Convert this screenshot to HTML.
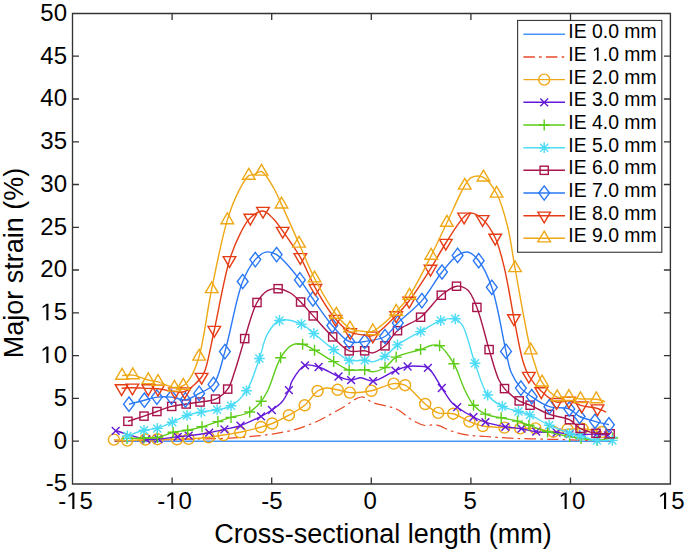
<!DOCTYPE html>
<html><head><meta charset="utf-8"><style>
html,body{margin:0;padding:0;background:#fff;}
svg{display:block;font-family:"Liberation Sans",sans-serif;}
</style></head><body>
<svg width="685" height="552" viewBox="0 0 685 552">
<rect width="685" height="552" fill="#fff"/>
<rect x="72.5" y="13.5" width="597.9" height="470.5" fill="#fff" stroke="none"/>
<path d="M114.5 441.3 L610.5 441.3" fill="none" stroke="#4595f8" stroke-width="1.4" stroke-linejoin="round"/>

<path d="M114.5 441.1 C129.7 440.7 145.3 440.4 160 440 C173.8 439.7 187.6 439.3 200 439 C210.7 438.7 220.8 438.7 230 438.2 C237.9 437.8 244.6 437.1 251.9 436.4 C259.2 435.7 266.5 435 273.8 433.8 C281.1 432.6 289 431.3 295.7 429.4 C301.5 427.8 307.4 425.4 311.8 423.6 C315 422.3 316.7 421.6 320 420 C325.6 417.2 334.8 411.9 341.9 408 C348.6 404.3 356 397.1 361.6 397 C365.8 396.9 368.4 400.9 372.6 402.5 C377.7 404.4 385.3 405.4 390.1 406.9 C393.5 408 395.7 408.5 398.8 410.2 C402.9 412.4 407.4 417.4 412 420 C416.2 422.4 420.9 424.8 425.1 425.5 C428.8 426.1 432.1 424.3 436 424.9 C440.8 425.7 446.2 429.3 451.4 431 C456.5 432.6 461.3 434 466.7 434.9 C472.7 435.9 479 436 485.7 436.5 C493.3 437.1 501.5 437.8 510.1 438.2 C519.6 438.7 530 438.7 540 439 C550 439.3 559.3 439.5 570 439.8 C582.5 440.2 597 440.6 610.5 441" fill="none" stroke="#e84a28" stroke-width="1.25" stroke-linejoin="round" stroke-dasharray="11.5 4.2 2.6 4.2"/>

<path d="M113.9 439.6 C118.4 439.9 122.5 440.6 127.3 440.6 C132.9 440.6 140 439.7 145.4 439.5 C149.8 439.3 152.9 439.2 157.4 439.2 C163.2 439.1 171.4 439.4 177.1 439.3 C181.4 439.2 184.2 439.1 188.5 438.9 C194.3 438.6 202.4 438 208.6 437.3 C214 436.7 218.4 435.8 223.5 435 C228.9 434.1 234.4 433.5 240.2 432.3 C246.8 430.9 255.1 428.7 260.9 427 C265.3 425.8 268.1 425.1 272.2 423.5 C277.3 421.5 283.5 418.2 288.9 415.2 C294.3 412.2 299.9 409.3 304.7 405.3 C309.5 401.2 313.4 393.8 317.6 391 C320.5 389.1 323.1 388.3 326.2 388 C329.7 387.7 333.7 389.1 337.6 389.8 C341.6 390.6 345.1 392.3 349.8 392.6 C355.9 393 364.2 392.2 371.4 390.8 C378.9 389.3 387.4 384.1 393.7 383.6 C398.1 383.2 401.1 383.3 405.1 385.2 C411.3 388.2 419.1 399.1 425.2 404 C429.9 407.7 433.5 411.3 438.2 412.9 C442.8 414.5 448.2 412.4 453.2 413.7 C458.6 415.1 464.2 419.5 469.4 421.6 C474 423.5 477.7 425 482.8 426 C489.1 427.2 497.8 427.2 504.4 427.6 C510.1 428 515 428.3 520.2 428.4 C525.3 428.5 530.1 427.9 535.4 428.4 C541.1 428.9 547.7 431.7 553.3 431.7 C558.3 431.7 562.7 429.8 567.5 429.3 C572.4 428.8 577.2 428.5 582.5 428.8 C588.6 429.2 595.5 430.9 602 432" fill="none" stroke="#efa815" stroke-width="1.4" stroke-linejoin="round"/>
<g fill="none" stroke="#efa815" stroke-width="1.4"><circle cx="113.9" cy="439.6" r="5.5"/><circle cx="127.3" cy="440.6" r="5.5"/><circle cx="145.4" cy="439.5" r="5.5"/><circle cx="157.4" cy="439.2" r="5.5"/><circle cx="177.1" cy="439.3" r="5.5"/><circle cx="188.5" cy="438.9" r="5.5"/><circle cx="208.6" cy="437.3" r="5.5"/><circle cx="223.5" cy="435" r="5.5"/><circle cx="240.2" cy="432.3" r="5.5"/><circle cx="260.9" cy="427" r="5.5"/><circle cx="272.2" cy="423.5" r="5.5"/><circle cx="288.9" cy="415.2" r="5.5"/><circle cx="304.7" cy="405.3" r="5.5"/><circle cx="317.6" cy="391" r="5.5"/><circle cx="337.6" cy="389.8" r="5.5"/><circle cx="349.8" cy="392.6" r="5.5"/><circle cx="371.4" cy="390.8" r="5.5"/><circle cx="393.7" cy="383.6" r="5.5"/><circle cx="405.1" cy="385.2" r="5.5"/><circle cx="425.2" cy="404" r="5.5"/><circle cx="438.2" cy="412.9" r="5.5"/><circle cx="453.2" cy="413.7" r="5.5"/><circle cx="469.4" cy="421.6" r="5.5"/><circle cx="482.8" cy="426" r="5.5"/><circle cx="504.4" cy="427.6" r="5.5"/><circle cx="520.2" cy="428.4" r="5.5"/><circle cx="535.4" cy="428.4" r="5.5"/><circle cx="553.3" cy="431.7" r="5.5"/><circle cx="567.5" cy="429.3" r="5.5"/><circle cx="582.5" cy="428.8" r="5.5"/><circle cx="602" cy="432" r="5.5"/></g>

<path d="M115.7 430.8 C125.9 433.6 138.3 438.3 146.2 439.3 C151.1 439.9 153.9 439.3 158.4 439 C164.1 438.6 172.2 437.4 177.7 436.8 C181.9 436.3 184.5 436.1 188.7 435.6 C194.5 434.9 202.9 433.8 209.2 432.7 C214.7 431.7 219.3 430.6 224.4 429.4 C229.7 428.2 234.9 427.5 240.5 425.6 C247 423.4 255.3 419.2 261 416.3 C265.3 414.1 268.5 412.3 271.9 410 C275.3 407.7 278.8 405.5 281.6 402.3 C284.6 398.9 287.1 394 288.9 390.2 C290.4 387.1 290.2 384.4 292 381.2 C294.7 376.4 300 367.4 305 365.4 C309.1 363.8 313.8 365.6 318.6 367 C324.7 368.8 332.5 374.2 338.5 376.5 C343.1 378.2 347.1 380 351.1 380.1 C354.6 380.2 357.5 377.7 361 377.8 C364.8 377.9 368.5 381.5 373.1 381.1 C379.5 380.5 389 373.2 395.4 370.6 C400 368.7 403.7 367.2 407.6 366.5 C411 365.9 414 366 417.3 366.2 C420.8 366.4 424.6 365.7 427.9 367.8 C433 371 437.6 381.8 441.8 388 C445.3 393.2 448.5 398.9 451.5 402.3 C453.5 404.5 454.7 405.4 457.2 407.2 C461.2 410.1 468.4 414.4 473.5 417 C477.7 419.2 480.8 420.7 485.4 422.2 C491.1 424.1 499 425.7 505.3 426.8 C510.9 427.8 516.2 427.9 521.5 428.7 C526.5 429.5 530.9 431.1 536.2 431.7 C542.4 432.5 550.6 432 556.6 432.5 C561.4 432.9 565.2 433.9 569.6 434.2 C574 434.5 578.5 434.5 583 434.5 C587.5 434.5 592.2 434 596.5 434.2 C600.5 434.3 604.1 434.9 607.9 435.3" fill="none" stroke="#6418d8" stroke-width="1.4" stroke-linejoin="round"/>
<g fill="none" stroke="#6418d8" stroke-width="1.4"><path d="M111.8 426.9L119.6 434.7M111.8 434.7L119.6 426.9"/><path d="M142.3 435.4L150.1 443.2M142.3 443.2L150.1 435.4"/><path d="M154.5 435.1L162.3 442.9M154.5 442.9L162.3 435.1"/><path d="M173.8 432.9L181.6 440.7M173.8 440.7L181.6 432.9"/><path d="M184.8 431.7L192.6 439.5M184.8 439.5L192.6 431.7"/><path d="M205.3 428.8L213.1 436.6M205.3 436.6L213.1 428.8"/><path d="M220.5 425.5L228.3 433.3M220.5 433.3L228.3 425.5"/><path d="M236.6 421.7L244.4 429.5M236.6 429.5L244.4 421.7"/><path d="M257.1 412.4L264.9 420.2M257.1 420.2L264.9 412.4"/><path d="M268 406.1L275.8 413.9M268 413.9L275.8 406.1"/><path d="M285 386.3L292.8 394.1M285 394.1L292.8 386.3"/><path d="M301.1 361.5L308.9 369.3M301.1 369.3L308.9 361.5"/><path d="M314.7 363.1L322.5 370.9M314.7 370.9L322.5 363.1"/><path d="M334.6 372.6L342.4 380.4M334.6 380.4L342.4 372.6"/><path d="M347.2 376.2L355 384M347.2 384L355 376.2"/><path d="M369.2 377.2L377 385M369.2 385L377 377.2"/><path d="M391.5 366.7L399.3 374.5M391.5 374.5L399.3 366.7"/><path d="M403.7 362.6L411.5 370.4M403.7 370.4L411.5 362.6"/><path d="M424 363.9L431.8 371.7M424 371.7L431.8 363.9"/><path d="M437.9 384.1L445.7 391.9M437.9 391.9L445.7 384.1"/><path d="M453.3 403.3L461.1 411.1M453.3 411.1L461.1 403.3"/><path d="M469.6 413.1L477.4 420.9M469.6 420.9L477.4 413.1"/><path d="M481.5 418.3L489.3 426.1M481.5 426.1L489.3 418.3"/><path d="M501.4 422.9L509.2 430.7M501.4 430.7L509.2 422.9"/><path d="M517.6 424.8L525.4 432.6M517.6 432.6L525.4 424.8"/><path d="M532.3 427.8L540.1 435.6M532.3 435.6L540.1 427.8"/><path d="M552.7 428.6L560.5 436.4M552.7 436.4L560.5 428.6"/><path d="M565.7 430.3L573.5 438.1M565.7 438.1L573.5 430.3"/><path d="M579.1 430.6L586.9 438.4M579.1 438.4L586.9 430.6"/><path d="M592.6 430.3L600.4 438.1M592.6 438.1L600.4 430.3"/><path d="M604 431.4L611.8 439.2M604 439.2L611.8 431.4"/></g>

<path d="M127 438.4 C132.7 438.3 138.7 438.2 144 438 C148.7 437.9 152.8 438.3 157.4 437.5 C162.5 436.6 167.9 433.5 173.1 432.3 C178 431.2 182.9 431.2 187.7 430.3 C192.5 429.4 197.1 428.2 202 426.8 C207.2 425.3 212.9 423.2 217.9 421.6 C222.5 420.1 226.2 418.9 231 417.4 C236.7 415.7 244.5 415 249.7 412 C254.4 409.3 258.1 405.1 261.2 401.2 C264.1 397.7 265.6 394.8 268 390 C271.9 382.2 275.7 365.8 280.6 357.8 C284 352.2 287.8 347.2 292 345.1 C295.3 343.5 299.1 343.6 302.6 344.3 C306.6 345.1 310.1 347.8 314.5 350.2 C320.2 353.3 327.6 358.1 333.7 361.6 C339.1 364.7 343.9 368.7 349.2 370 C354.2 371.2 360.4 369.2 364.7 369.7 C367.9 370.1 369.8 371.8 372.8 371.7 C376.5 371.5 381.2 369.8 385 367.5 C389.1 365 391.4 359.9 396.2 357.1 C402.5 353.5 414 351.8 420.6 349.5 C425.1 347.9 428.5 345.7 432 345.2 C434.7 344.8 437 344.4 439.6 345.8 C444.1 348.2 449.8 356.9 453.8 363.7 C458.2 371.2 460.9 381.9 464.5 389.3 C467.5 395.4 469.8 401.1 473.5 405.3 C476.9 409.1 480.9 412 485.4 414.1 C490.1 416.3 495.9 416.6 501.2 417.8 C506.6 419 512.6 419.7 517.5 421.1 C521.7 422.3 524.6 423.7 528.9 425.2 C534.4 427.1 541.1 429.8 547.6 431.7 C554.6 433.7 563.4 435.4 569.6 436.6 C574 437.5 576.8 438 581 438.6 C585.9 439.3 592 440.3 597.3 440.2 C602.5 440.1 607.4 438.7 612.5 438" fill="none" stroke="#5ccc18" stroke-width="1.4" stroke-linejoin="round"/>
<g fill="none" stroke="#5ccc18" stroke-width="1.4"><path d="M121.5 438.4H132.5M127 432.9V443.9"/><path d="M138.5 438H149.5M144 432.5V443.5"/><path d="M151.9 437.5H162.9M157.4 432V443"/><path d="M167.6 432.3H178.6M173.1 426.8V437.8"/><path d="M182.2 430.3H193.2M187.7 424.8V435.8"/><path d="M196.5 426.8H207.5M202 421.3V432.3"/><path d="M212.4 421.6H223.4M217.9 416.1V427.1"/><path d="M225.5 417.4H236.5M231 411.9V422.9"/><path d="M244.2 412H255.2M249.7 406.5V417.5"/><path d="M255.7 401.2H266.7M261.2 395.7V406.7"/><path d="M275.1 357.8H286.1M280.6 352.3V363.3"/><path d="M297.1 344.3H308.1M302.6 338.8V349.8"/><path d="M309 350.2H320M314.5 344.7V355.7"/><path d="M328.2 361.6H339.2M333.7 356.1V367.1"/><path d="M343.7 370H354.7M349.2 364.5V375.5"/><path d="M359.2 369.7H370.2M364.7 364.2V375.2"/><path d="M379.5 367.5H390.5M385 362V373"/><path d="M390.7 357.1H401.7M396.2 351.6V362.6"/><path d="M415.1 349.5H426.1M420.6 344V355"/><path d="M434.1 345.8H445.1M439.6 340.3V351.3"/><path d="M448.3 363.7H459.3M453.8 358.2V369.2"/><path d="M468 405.3H479M473.5 399.8V410.8"/><path d="M479.9 414.1H490.9M485.4 408.6V419.6"/><path d="M495.7 417.8H506.7M501.2 412.3V423.3"/><path d="M512 421.1H523M517.5 415.6V426.6"/><path d="M523.4 425.2H534.4M528.9 419.7V430.7"/><path d="M542.1 431.7H553.1M547.6 426.2V437.2"/><path d="M564.1 436.6H575.1M569.6 431.1V442.1"/><path d="M575.5 438.6H586.5M581 433.1V444.1"/><path d="M591.8 440.2H602.8M597.3 434.7V445.7"/><path d="M607 438H618M612.5 432.5V443.5"/></g>

<path d="M127.3 436 C132.9 434.1 138.7 431.6 144 430.3 C148.6 429.2 152.8 429.6 157.3 428.4 C162.2 427.1 167.3 424.4 172.3 422.2 C177.2 420 182.1 417.1 187 415.4 C191.7 413.8 196.3 413 201.2 412.1 C206.3 411.1 212 410.8 217.1 409.7 C221.9 408.7 226.5 408.4 231 405.8 C236.4 402.7 242.1 397.3 246.5 390.8 C252.1 382.5 255.7 368.6 259.4 358.5 C262.6 349.7 263.7 340.4 267.6 333.7 C270.8 328.2 274.3 322.3 279.5 320.5 C285.3 318.5 295.4 321.5 301.4 324.1 C306.5 326.3 309.3 329.9 313.9 333.5 C319.8 338.1 327.4 345 333.7 349.7 C339.1 353.7 343.8 358.6 349.2 360.3 C354.1 361.8 360.4 359.9 364.7 360.3 C367.9 360.6 369.9 362.3 372.8 361.9 C376.5 361.4 381.1 358.8 385 356.2 C389.4 353.3 392.5 348.6 397.5 344.9 C403.8 340.3 413.1 335.8 420.6 331.6 C427.5 327.7 434.4 322.6 440.7 320.6 C445.8 319 451.4 317.6 455.2 318.8 C458.4 319.8 460.3 322 462.6 325.6 C467.2 332.8 470.6 351.3 475 363.3 C479 374.4 482.1 387.5 487.7 395 C491.8 400.5 497 403.6 502.3 406.4 C507.3 409 513.6 410 518.5 411.5 C522.6 412.8 525.6 413.2 529.8 414.9 C535.5 417.2 542.6 422.1 549.2 425.2 C555.8 428.3 563.9 431.4 569.6 433.3 C573.7 434.6 576.3 435 580.2 436 C585.2 437.3 591.5 439.7 597 440.4 C602.2 441.1 607.2 440.4 612.3 440.4" fill="none" stroke="#4ddcf7" stroke-width="1.4" stroke-linejoin="round"/>
<g fill="none" stroke="#4ddcf7" stroke-width="1.4"><path d="M121.9 436H132.7M127.3 430.6V441.4M123.3 432L131.3 440M123.3 440L131.3 432"/><path d="M138.6 430.3H149.4M144 424.9V435.7M140 426.3L148 434.3M140 434.3L148 426.3"/><path d="M151.9 428.4H162.7M157.3 423V433.8M153.3 424.4L161.3 432.4M153.3 432.4L161.3 424.4"/><path d="M166.9 422.2H177.7M172.3 416.8V427.6M168.3 418.2L176.3 426.2M168.3 426.2L176.3 418.2"/><path d="M181.6 415.4H192.4M187 410V420.8M183 411.4L191 419.4M183 419.4L191 411.4"/><path d="M195.8 412.1H206.6M201.2 406.7V417.5M197.2 408.1L205.2 416.1M197.2 416.1L205.2 408.1"/><path d="M211.7 409.7H222.5M217.1 404.3V415.1M213.1 405.7L221.1 413.7M213.1 413.7L221.1 405.7"/><path d="M225.6 405.8H236.4M231 400.4V411.2M227 401.8L235 409.8M227 409.8L235 401.8"/><path d="M241.1 390.8H251.9M246.5 385.4V396.2M242.5 386.8L250.5 394.8M242.5 394.8L250.5 386.8"/><path d="M254 358.5H264.8M259.4 353.1V363.9M255.4 354.5L263.4 362.5M255.4 362.5L263.4 354.5"/><path d="M274.1 320.5H284.9M279.5 315.1V325.9M275.5 316.5L283.5 324.5M275.5 324.5L283.5 316.5"/><path d="M296 324.1H306.8M301.4 318.7V329.5M297.4 320.1L305.4 328.1M297.4 328.1L305.4 320.1"/><path d="M308.5 333.5H319.3M313.9 328.1V338.9M309.9 329.5L317.9 337.5M309.9 337.5L317.9 329.5"/><path d="M328.3 349.7H339.1M333.7 344.3V355.1M329.7 345.7L337.7 353.7M329.7 353.7L337.7 345.7"/><path d="M343.8 360.3H354.6M349.2 354.9V365.7M345.2 356.3L353.2 364.3M345.2 364.3L353.2 356.3"/><path d="M359.3 360.3H370.1M364.7 354.9V365.7M360.7 356.3L368.7 364.3M360.7 364.3L368.7 356.3"/><path d="M379.6 356.2H390.4M385 350.8V361.6M381 352.2L389 360.2M381 360.2L389 352.2"/><path d="M392.1 344.9H402.9M397.5 339.5V350.3M393.5 340.9L401.5 348.9M393.5 348.9L401.5 340.9"/><path d="M415.2 331.6H426M420.6 326.2V337M416.6 327.6L424.6 335.6M416.6 335.6L424.6 327.6"/><path d="M435.3 320.6H446.1M440.7 315.2V326M436.7 316.6L444.7 324.6M436.7 324.6L444.7 316.6"/><path d="M449.8 318.8H460.6M455.2 313.4V324.2M451.2 314.8L459.2 322.8M451.2 322.8L459.2 314.8"/><path d="M469.6 363.3H480.4M475 357.9V368.7M471 359.3L479 367.3M471 367.3L479 359.3"/><path d="M482.3 395H493.1M487.7 389.6V400.4M483.7 391L491.7 399M483.7 399L491.7 391"/><path d="M496.9 406.4H507.7M502.3 401V411.8M498.3 402.4L506.3 410.4M498.3 410.4L506.3 402.4"/><path d="M513.1 411.5H523.9M518.5 406.1V416.9M514.5 407.5L522.5 415.5M514.5 415.5L522.5 407.5"/><path d="M524.4 414.9H535.2M529.8 409.5V420.3M525.8 410.9L533.8 418.9M525.8 418.9L533.8 410.9"/><path d="M543.8 425.2H554.6M549.2 419.8V430.6M545.2 421.2L553.2 429.2M545.2 429.2L553.2 421.2"/><path d="M564.2 433.3H575M569.6 427.9V438.7M565.6 429.3L573.6 437.3M565.6 437.3L573.6 429.3"/><path d="M574.8 436H585.6M580.2 430.6V441.4M576.2 432L584.2 440M576.2 440L584.2 432"/><path d="M591.6 440.4H602.4M597 435V445.8M593 436.4L601 444.4M593 444.4L601 436.4"/><path d="M606.9 440.4H617.7M612.3 435V445.8M608.3 436.4L616.3 444.4M608.3 444.4L616.3 436.4"/></g>

<path d="M127.9 421.3 C133.3 419.6 138.9 417.8 144 416.1 C148.6 414.6 152.4 413.1 156.9 411.5 C161.7 409.8 166.7 407.7 171.7 406.4 C176.5 405.2 181.4 404.7 186.2 404 C190.9 403.3 195.3 402.8 200 402 C205 401.2 210.9 401.2 215.5 399.1 C220.1 397 224.6 393.4 227.7 389.1 C231.1 384.5 232.2 378.6 234.6 371.8 C237.8 362.6 241.1 349.9 244.7 338.6 C248.5 326.8 252.1 311 257 302.5 C260.2 297 263.7 292.8 267.6 290.6 C270.8 288.8 274.5 288.4 278.1 288.7 C282.1 289 286.7 290.8 290.4 293 C294.2 295.2 297.1 298.6 300.6 302 C304.7 306 308.5 310.8 313.2 315.9 C319 322.2 326.3 330.8 332.7 336.9 C338.3 342.2 343.4 348.7 349.2 350.8 C354.1 352.6 360.4 350.3 364.7 350.8 C367.9 351.2 369.9 353.3 372.8 352.9 C376.6 352.4 381.2 349 385 345.8 C389.5 342 392.2 335.2 397.5 330.7 C403.7 325.5 413.5 322.9 420.6 317.2 C428.2 311.2 434.6 300.6 441.3 295.2 C446.5 291.1 451.7 286.7 456.5 286.2 C460.4 285.8 464.4 287.2 467.5 289.8 C471.6 293.2 473.9 300.1 476.9 307.4 C481.3 318.3 485.2 336.8 489.1 349.6 C492.4 360.4 495.4 372.6 498.7 379.5 C500.6 383.6 501.8 385.5 504.5 388.6 C508.1 392.7 514.4 398.1 519.2 400.9 C522.9 403.1 526 403.4 530.1 405.2 C535.7 407.6 542.9 412 549.5 414.4 C556 416.8 564.1 416.9 569.5 419.7 C573.9 421.9 576 426.2 580.1 428.4 C584.7 430.9 590.8 432.4 596 433.3 C600.8 434.1 605.4 433.6 610.1 433.8" fill="none" stroke="#a8144c" stroke-width="1.4" stroke-linejoin="round"/>
<g fill="none" stroke="#a8144c" stroke-width="1.4"><rect x="123.8" y="417.2" width="8.2" height="8.2"/><rect x="139.9" y="412" width="8.2" height="8.2"/><rect x="152.8" y="407.4" width="8.2" height="8.2"/><rect x="167.6" y="402.3" width="8.2" height="8.2"/><rect x="182.1" y="399.9" width="8.2" height="8.2"/><rect x="195.9" y="397.9" width="8.2" height="8.2"/><rect x="211.4" y="395" width="8.2" height="8.2"/><rect x="223.6" y="385" width="8.2" height="8.2"/><rect x="240.6" y="334.5" width="8.2" height="8.2"/><rect x="252.9" y="298.4" width="8.2" height="8.2"/><rect x="274" y="284.6" width="8.2" height="8.2"/><rect x="296.5" y="297.9" width="8.2" height="8.2"/><rect x="309.1" y="311.8" width="8.2" height="8.2"/><rect x="328.6" y="332.8" width="8.2" height="8.2"/><rect x="345.1" y="346.7" width="8.2" height="8.2"/><rect x="360.6" y="346.7" width="8.2" height="8.2"/><rect x="380.9" y="341.7" width="8.2" height="8.2"/><rect x="393.4" y="326.6" width="8.2" height="8.2"/><rect x="416.5" y="313.1" width="8.2" height="8.2"/><rect x="437.2" y="291.1" width="8.2" height="8.2"/><rect x="452.4" y="282.1" width="8.2" height="8.2"/><rect x="472.8" y="303.3" width="8.2" height="8.2"/><rect x="485" y="345.5" width="8.2" height="8.2"/><rect x="500.4" y="384.5" width="8.2" height="8.2"/><rect x="515.1" y="396.8" width="8.2" height="8.2"/><rect x="526" y="401.1" width="8.2" height="8.2"/><rect x="545.4" y="410.3" width="8.2" height="8.2"/><rect x="565.4" y="415.6" width="8.2" height="8.2"/><rect x="576" y="424.3" width="8.2" height="8.2"/><rect x="591.9" y="429.2" width="8.2" height="8.2"/><rect x="606" y="429.7" width="8.2" height="8.2"/></g>

<path d="M129 404.2 C134.1 402.9 139.5 401.4 144.4 400.2 C148.8 399.1 152.5 397.6 156.9 397.1 C161.5 396.5 166.7 396.6 171.5 397.1 C176.2 397.6 180.9 400.5 185.4 399.9 C190.1 399.3 194.6 395.9 199.2 393.4 C204 390.8 209.6 389.3 213.5 384.4 C219.1 377.4 221 364.7 224.9 351.6 C230.6 332.7 236 297.9 242.7 281.5 C246.6 271.8 250.7 264.7 255.3 259.6 C258.5 256 261.9 252.9 265.6 252.1 C269.1 251.4 272.6 252.3 276.6 254.6 C283.5 258.6 293.5 271.8 299.9 279.9 C305.1 286.5 308.1 292.1 312.9 298.9 C318.7 307.1 325.7 318 332.3 325.5 C337.8 331.8 343.2 339.1 349.2 341.5 C354.1 343.5 359.2 342.2 364.7 341.5 C371.1 340.7 379.4 339.8 385 336.5 C390.3 333.4 392.8 327.9 397.8 322.9 C404.5 316.3 414.6 308.9 421.9 300.6 C429.4 292 435.4 280.1 442 272 C447.3 265.5 452.4 258.6 457.6 255.4 C461.3 253.1 465.2 251.5 468.6 252.2 C472.3 253 475.5 256.6 478.7 260.7 C483.5 266.8 487.9 276.2 491.8 287.3 C497.6 303.8 502.4 336 506 351.4 C508 360.2 508.4 365.7 511 372 C513.5 377.9 517.1 383.8 520.9 388.1 C524.1 391.8 527.5 393.9 531.7 396.7 C536.8 400.1 543.1 404.7 549.4 406.7 C555.6 408.7 564 406.9 569.3 409 C573.6 410.7 575.6 414.5 579.6 416.5 C584.1 418.7 590 419.9 595 421.3 C599.7 422.6 604.3 423.6 608.9 424.8" fill="none" stroke="#2a78f6" stroke-width="1.4" stroke-linejoin="round"/>
<g fill="none" stroke="#2a78f6" stroke-width="1.4"><path d="M129 397L134.4 404.2L129 411.4L123.6 404.2Z"/><path d="M144.4 393L149.8 400.2L144.4 407.4L139 400.2Z"/><path d="M156.9 389.9L162.3 397.1L156.9 404.3L151.5 397.1Z"/><path d="M171.5 389.9L176.9 397.1L171.5 404.3L166.1 397.1Z"/><path d="M185.4 392.7L190.8 399.9L185.4 407.1L180 399.9Z"/><path d="M199.2 386.2L204.6 393.4L199.2 400.6L193.8 393.4Z"/><path d="M213.5 377.2L218.9 384.4L213.5 391.6L208.1 384.4Z"/><path d="M224.9 344.4L230.3 351.6L224.9 358.8L219.5 351.6Z"/><path d="M242.7 274.3L248.1 281.5L242.7 288.7L237.3 281.5Z"/><path d="M255.3 252.4L260.7 259.6L255.3 266.8L249.9 259.6Z"/><path d="M276.6 247.4L282 254.6L276.6 261.8L271.2 254.6Z"/><path d="M299.9 272.7L305.3 279.9L299.9 287.1L294.5 279.9Z"/><path d="M312.9 291.7L318.3 298.9L312.9 306.1L307.5 298.9Z"/><path d="M332.3 318.3L337.7 325.5L332.3 332.7L326.9 325.5Z"/><path d="M349.2 334.3L354.6 341.5L349.2 348.7L343.8 341.5Z"/><path d="M364.7 334.3L370.1 341.5L364.7 348.7L359.3 341.5Z"/><path d="M385 329.3L390.4 336.5L385 343.7L379.6 336.5Z"/><path d="M397.8 315.7L403.2 322.9L397.8 330.1L392.4 322.9Z"/><path d="M421.9 293.4L427.3 300.6L421.9 307.8L416.5 300.6Z"/><path d="M442 264.8L447.4 272L442 279.2L436.6 272Z"/><path d="M457.6 248.2L463 255.4L457.6 262.6L452.2 255.4Z"/><path d="M478.7 253.5L484.1 260.7L478.7 267.9L473.3 260.7Z"/><path d="M491.8 280.1L497.2 287.3L491.8 294.5L486.4 287.3Z"/><path d="M506 344.2L511.4 351.4L506 358.6L500.6 351.4Z"/><path d="M520.9 380.9L526.3 388.1L520.9 395.3L515.5 388.1Z"/><path d="M531.7 389.5L537.1 396.7L531.7 403.9L526.3 396.7Z"/><path d="M549.4 399.5L554.8 406.7L549.4 413.9L544 406.7Z"/><path d="M569.3 401.8L574.7 409L569.3 416.2L563.9 409Z"/><path d="M579.6 409.3L585 416.5L579.6 423.7L574.2 416.5Z"/><path d="M595 414.1L600.4 421.3L595 428.5L589.6 421.3Z"/><path d="M608.9 417.6L614.3 424.8L608.9 432L603.5 424.8Z"/></g>

<path d="M121.6 388.3 C125.2 388.1 128.5 387.7 132.4 387.7 C137.2 387.7 143.7 388.2 148.3 388.4 C151.9 388.6 154.3 388.4 158 388.8 C162.9 389.3 170.1 391.1 175 391.5 C178.7 391.8 181.3 392.8 184.7 391.5 C189.9 389.6 198.2 381.4 201.6 377 C203.7 374.3 204.1 373 205.4 369.3 C208.2 361.4 211 345 214.3 330 C218.7 310.1 224 278 229.5 260.2 C233.1 248.7 236.7 240.2 240.7 232.6 C243.8 226.7 246.3 221.5 250.3 217.8 C253.9 214.5 259.1 210.7 263 211 C266.7 211.3 270.1 215.6 273.3 218.7 C276.8 222.1 279.2 226.1 282.7 231 C287.7 238 294.9 247.9 300.3 257.2 C305.9 266.9 309.7 278 315.4 288.1 C321.3 298.6 328.8 311.2 335.5 319 C340.4 324.7 345 329.6 350.2 332.2 C354.6 334.4 359.8 334.4 363.9 335 C367.2 335.5 369.4 336.8 372.8 335.7 C379.1 333.6 389.7 321.8 396.2 315.4 C401.4 310.3 404.6 306.8 409.2 300.8 C415.7 292.4 424.1 279.1 430.5 268.9 C436.2 259.9 440.3 251.6 445.8 243 C451.5 234.2 459.1 221.3 464.1 216.7 C466.5 214.5 468 213 470.5 212.9 C473.9 212.8 478.9 215.9 482.6 219.2 C487.3 223.4 491.8 230.6 495.2 237.8 C499.2 246.1 501.3 255.7 504.1 266.8 C507.7 281.4 512 308.6 513.9 318.3 C514.6 322.1 514.8 322.7 515.5 326.3 C517.1 333.9 520.3 352.7 523.1 361.8 C524.9 367.7 526.2 371.4 528.9 376 C532 381.2 536.6 386.9 541.3 391.3 C545.9 395.6 551.5 400.8 556.6 402.1 C560.7 403.2 564.8 400.4 568.9 400.9 C573.2 401.4 577.2 404.4 581.7 405.6 C586.6 406.9 593.1 407.2 597.5 408.5 C600.9 409.5 603.3 410.9 606.2 412.1" fill="none" stroke="#e63c14" stroke-width="1.4" stroke-linejoin="round"/>
<g fill="none" stroke="#e63c14" stroke-width="1.4"><path d="M115.3 384.7H127.9L121.6 395.5Z"/><path d="M126.1 384.1H138.7L132.4 394.9Z"/><path d="M142 384.8H154.6L148.3 395.6Z"/><path d="M151.7 385.2H164.3L158 396Z"/><path d="M168.7 387.9H181.3L175 398.7Z"/><path d="M178.4 387.9H191L184.7 398.7Z"/><path d="M195.3 373.4H207.9L201.6 384.2Z"/><path d="M208 326.4H220.6L214.3 337.2Z"/><path d="M223.2 256.6H235.8L229.5 267.4Z"/><path d="M244 214.2H256.6L250.3 225Z"/><path d="M256.7 207.4H269.3L263 218.2Z"/><path d="M276.4 227.4H289L282.7 238.2Z"/><path d="M294 253.6H306.6L300.3 264.4Z"/><path d="M309.1 284.5H321.7L315.4 295.3Z"/><path d="M329.2 315.4H341.8L335.5 326.2Z"/><path d="M343.9 328.6H356.5L350.2 339.4Z"/><path d="M366.5 332.1H379.1L372.8 342.9Z"/><path d="M389.9 311.8H402.5L396.2 322.6Z"/><path d="M402.9 297.2H415.5L409.2 308Z"/><path d="M424.2 265.3H436.8L430.5 276.1Z"/><path d="M439.5 239.4H452.1L445.8 250.2Z"/><path d="M457.8 213.1H470.4L464.1 223.9Z"/><path d="M476.3 215.6H488.9L482.6 226.4Z"/><path d="M488.9 234.2H501.5L495.2 245Z"/><path d="M507.6 314.7H520.2L513.9 325.5Z"/><path d="M522.6 372.4H535.2L528.9 383.2Z"/><path d="M535 387.7H547.6L541.3 398.5Z"/><path d="M550.3 398.5H562.9L556.6 409.3Z"/><path d="M562.6 397.3H575.2L568.9 408.1Z"/><path d="M575.4 402H588L581.7 412.8Z"/><path d="M591.2 404.9H603.8L597.5 415.7Z"/></g>

<path d="M122 375.6 C125.6 375.4 128.9 374.6 132.8 375.1 C137.6 375.7 143.7 378.9 148.3 380 C151.9 380.9 154.4 380.8 158 381.8 C162.8 383.1 169.7 387.2 174.4 387.5 C177.8 387.7 180.7 387.2 183.3 385.7 C186 384.2 188 381.6 190.2 378.2 C193.5 373 196.3 365.9 199.1 356.5 C203.9 340.4 207 311.6 211.7 289 C216.4 266.1 221.9 237.8 227.3 220.1 C230.8 208.5 234.2 200 238.2 192.1 C241.5 185.7 245.4 177.9 248.8 175.6 C250.6 174.4 252.3 175.2 254.2 174.6 C256.5 173.9 259 170.8 261.5 171.5 C265.5 172.6 270.5 182.8 273.9 188.5 C277 193.7 278.5 197.9 281.5 204.4 C286.2 214.5 293.3 230.8 299 243.5 C304.3 255.4 308.5 266.8 314.5 278.3 C320.9 290.5 329.4 305.8 336.4 314.7 C341.1 320.7 345 325.6 350 328.3 C354.3 330.7 359.8 331 363.9 331.4 C367.2 331.7 369.4 332.4 372.8 331.1 C379.1 328.7 389.7 318.2 396.2 311.7 C401.5 306.4 404.9 302.5 409.5 295.7 C416.3 285.6 424.7 268.4 431.2 255.6 C437 244.2 441.5 234 446.9 222.7 C452.7 210.7 459.9 193.2 464.8 185.5 C467.3 181.6 468.5 178.8 471.5 177.4 C474.7 175.9 479.8 175.6 483.5 177.4 C488.4 179.7 492.9 186.8 496.6 193.5 C501.2 201.9 504.3 213.6 507.2 225 C510.6 238.1 512.3 253 515 268 C518 284.5 521.5 305 524.4 320 C526.6 331.5 528.7 342.4 530.7 350.3 C532 355.5 532.9 358.4 534.5 363.1 C536.5 368.9 538.3 376.7 542.1 382.4 C545.9 388.1 552.1 395.1 557.2 397.1 C561 398.6 565 396.6 568.9 396.9 C572.8 397.2 576.3 398.6 580.5 399 C585.3 399.5 591.8 398.6 596.3 399.2 C599.7 399.7 602.2 400.8 605.1 401.6" fill="none" stroke="#efa815" stroke-width="1.4" stroke-linejoin="round"/>
<g fill="none" stroke="#efa815" stroke-width="1.4"><path d="M115.7 379.2H128.3L122 368.4Z"/><path d="M126.5 378.7H139.1L132.8 367.9Z"/><path d="M142 383.6H154.6L148.3 372.8Z"/><path d="M151.7 385.4H164.3L158 374.6Z"/><path d="M168.1 391.1H180.7L174.4 380.3Z"/><path d="M177 389.3H189.6L183.3 378.5Z"/><path d="M192.8 360.1H205.4L199.1 349.3Z"/><path d="M205.4 292.6H218L211.7 281.8Z"/><path d="M221 223.7H233.6L227.3 212.9Z"/><path d="M242.5 179.2H255.1L248.8 168.4Z"/><path d="M255.2 175.1H267.8L261.5 164.3Z"/><path d="M275.2 208H287.8L281.5 197.2Z"/><path d="M292.7 247.1H305.3L299 236.3Z"/><path d="M308.2 281.9H320.8L314.5 271.1Z"/><path d="M330.1 318.3H342.7L336.4 307.5Z"/><path d="M343.7 331.9H356.3L350 321.1Z"/><path d="M366.5 334.7H379.1L372.8 323.9Z"/><path d="M389.9 315.3H402.5L396.2 304.5Z"/><path d="M403.2 299.3H415.8L409.5 288.5Z"/><path d="M424.9 259.2H437.5L431.2 248.4Z"/><path d="M440.6 226.3H453.2L446.9 215.5Z"/><path d="M458.5 189.1H471.1L464.8 178.3Z"/><path d="M477.2 181H489.8L483.5 170.2Z"/><path d="M490.3 197.1H502.9L496.6 186.3Z"/><path d="M508.7 271.6H521.3L515 260.8Z"/><path d="M524.4 353.9H537L530.7 343.1Z"/><path d="M535.8 386H548.4L542.1 375.2Z"/><path d="M550.9 400.7H563.5L557.2 389.9Z"/><path d="M562.6 400.5H575.2L568.9 389.7Z"/><path d="M574.2 402.6H586.8L580.5 391.8Z"/><path d="M590 402.8H602.6L596.3 392Z"/></g>

<path d="M172.1 484V477.5M172.1 13.5V20M271.7 484V477.5M271.7 13.5V20M371.3 484V477.5M371.3 13.5V20M470.9 484V477.5M470.9 13.5V20M570.5 484V477.5M570.5 13.5V20M72.5 441.1H79M670.4 441.1H663.9M72.5 398.3H79M670.4 398.3H663.9M72.5 355.6H79M670.4 355.6H663.9M72.5 312.8H79M670.4 312.8H663.9M72.5 270H79M670.4 270H663.9M72.5 227.3H79M670.4 227.3H663.9M72.5 184.5H79M670.4 184.5H663.9M72.5 141.8H79M670.4 141.8H663.9M72.5 99H79M670.4 99H663.9M72.5 56.2H79M670.4 56.2H663.9" stroke="#333" stroke-width="1.3" fill="none"/>
<path d="M72.5 13.5H670.4M72.5 484.0H670.4M72.5 13.5V484.0M670.4 13.5V484.0" fill="none" stroke="#333" stroke-width="1.35" stroke-linecap="square"/>
<g font-size="24" fill="#000"><text x="75.6" y="509" text-anchor="middle">-&#8199;5</text><path transform="translate(66.25 509) scale(0.011719 -0.011719)" d="M515 0L515 1237L197 1010L197 1180L530 1409L696 1409L696 0Z" fill="#000"/><text x="174.5" y="509" text-anchor="middle">-&#8199;0</text><path transform="translate(165.15 509) scale(0.011719 -0.011719)" d="M515 0L515 1237L197 1010L197 1180L530 1409L696 1409L696 0Z" fill="#000"/><text x="272" y="509" text-anchor="middle">-5</text><text x="370.1" y="509" text-anchor="middle">0</text><text x="470.2" y="509" text-anchor="middle">5</text><text x="571.9" y="509" text-anchor="middle">&#8199;0</text><path transform="translate(558.55 509) scale(0.011719 -0.011719)" d="M515 0L515 1237L197 1010L197 1180L530 1409L696 1409L696 0Z" fill="#000"/><text x="671.3" y="509" text-anchor="middle">&#8199;5</text><path transform="translate(657.95 509) scale(0.011719 -0.011719)" d="M515 0L515 1237L197 1010L197 1180L530 1409L696 1409L696 0Z" fill="#000"/><text x="67" y="491.3" text-anchor="end">-5</text><text x="67" y="448.5" text-anchor="end">0</text><text x="67" y="405.7" text-anchor="end">5</text><text x="67" y="363" text-anchor="end">&#8199;0</text><path transform="translate(40.30 362.97) scale(0.011719 -0.011719)" d="M515 0L515 1237L197 1010L197 1180L530 1409L696 1409L696 0Z" fill="#000"/><text x="67" y="320.2" text-anchor="end">&#8199;5</text><path transform="translate(40.30 320.21) scale(0.011719 -0.011719)" d="M515 0L515 1237L197 1010L197 1180L530 1409L696 1409L696 0Z" fill="#000"/><text x="67" y="277.4" text-anchor="end">20</text><text x="67" y="234.7" text-anchor="end">25</text><text x="67" y="191.9" text-anchor="end">30</text><text x="67" y="149.2" text-anchor="end">35</text><text x="67" y="106.4" text-anchor="end">40</text><text x="67" y="63.6" text-anchor="end">45</text><text x="67" y="20.9" text-anchor="end">50</text></g>
<text x="383" y="543" text-anchor="middle" font-size="27">Cross-sectional length (mm)</text>
<text transform="translate(23.2 263) rotate(-90)" text-anchor="middle" font-size="27">Major strain (%)</text>
<rect x="517.6" y="20.45" width="144.2" height="231.8" fill="#fff" stroke="#3a3a3a" stroke-width="1.15"/><path d="M523.4 34.3H565" stroke="#4595f8" stroke-width="1.4"/><text x="568.3" y="38.2" font-size="19.4">IE 0.0 mm</text><path d="M523.4 57H565" stroke="#e84a28" stroke-width="1.4" stroke-dasharray="11.5 4.2 2.6 4.2"/><text x="568.3" y="60.9" font-size="19.4">IE &#8199;.0 mm</text><path transform="translate(592.02 60.87) scale(0.009473 -0.009473)" d="M515 0L515 1237L197 1010L197 1180L530 1409L696 1409L696 0Z" fill="#000"/><path d="M523.4 79.6H565" stroke="#efa815" stroke-width="1.4"/><g fill="none" stroke="#efa815" stroke-width="1.4"><circle cx="544.2" cy="79.6" r="5.5"/></g><text x="568.3" y="83.5" font-size="19.4">IE 2.0 mm</text><path d="M523.4 102.3H565" stroke="#6418d8" stroke-width="1.4"/><g fill="none" stroke="#6418d8" stroke-width="1.4"><path d="M540.3 98.4L548.1 106.2M540.3 106.2L548.1 98.4"/></g><text x="568.3" y="106.2" font-size="19.4">IE 3.0 mm</text><path d="M523.4 125H565" stroke="#5ccc18" stroke-width="1.4"/><g fill="none" stroke="#5ccc18" stroke-width="1.4"><path d="M538.7 125H549.7M544.2 119.5V130.5"/></g><text x="568.3" y="128.9" font-size="19.4">IE 4.0 mm</text><path d="M523.4 147.7H565" stroke="#4ddcf7" stroke-width="1.4"/><g fill="none" stroke="#4ddcf7" stroke-width="1.4"><path d="M538.8 147.7H549.6M544.2 142.2V153.1M540.2 143.7L548.2 151.7M540.2 151.7L548.2 143.7"/></g><text x="568.3" y="151.6" font-size="19.4">IE 5.0 mm</text><path d="M523.4 170.3H565" stroke="#a8144c" stroke-width="1.4"/><g fill="none" stroke="#a8144c" stroke-width="1.4"><rect x="540.1" y="166.2" width="8.2" height="8.2"/></g><text x="568.3" y="174.2" font-size="19.4">IE 6.0 mm</text><path d="M523.4 193H565" stroke="#2a78f6" stroke-width="1.4"/><g fill="none" stroke="#2a78f6" stroke-width="1.4"><path d="M544.2 185.8L549.6 193L544.2 200.2L538.8 193Z"/></g><text x="568.3" y="196.9" font-size="19.4">IE 7.0 mm</text><path d="M523.4 215.7H565" stroke="#e63c14" stroke-width="1.4"/><g fill="none" stroke="#e63c14" stroke-width="1.4"><path d="M537.9 212.1H550.5L544.2 222.9Z"/></g><text x="568.3" y="219.6" font-size="19.4">IE 8.0 mm</text><path d="M523.4 238.3H565" stroke="#efa815" stroke-width="1.4"/><g fill="none" stroke="#efa815" stroke-width="1.4"><path d="M537.9 241.9H550.5L544.2 231.1Z"/></g><text x="568.3" y="242.2" font-size="19.4">IE 9.0 mm</text>
</svg>
</body></html>
